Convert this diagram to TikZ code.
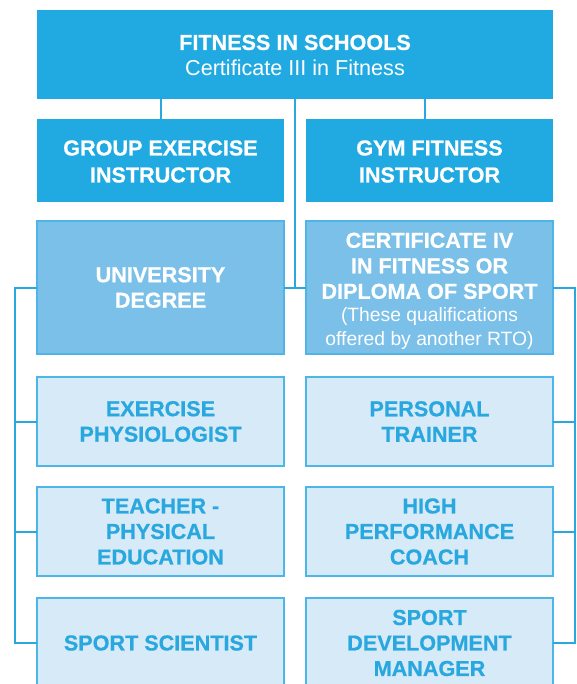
\documentclass[tikz,border=0pt]{standalone}
\usepackage{fontspec}
\setmainfont{Liberation Sans}[BoldFeatures={FakeBold=0.7}]
\definecolor{topblue}{HTML}{21AAE1}
\definecolor{midblue}{HTML}{7AC0E9}
\definecolor{midborder}{HTML}{4FB4E6}
\definecolor{paleblue}{HTML}{D7EAF7}
\definecolor{paleborder}{HTML}{4DB6E9}
\definecolor{textblue}{HTML}{29A7DF}
\definecolor{lineblue}{HTML}{29A8E0}
\tikzset{
  boxtext/.style={inner sep=0pt, outer sep=0pt, align=center,
    font=\fontsize{21.6}{25.5}\selectfont\bfseries},
  box/.style={boxtext, rectangle, minimum width=247pt},
  topbox/.style={box, fill=topblue, text=white},
  midbox/.style={box, fill=midblue, draw=midborder, line width=1.5pt, text=white},
  palebox/.style={box, fill=paleblue, draw=paleborder, line width=1.5pt, text=textblue},
  conn/.style={draw=lineblue, line width=2pt},
}
\begin{document}
\begin{tikzpicture}[x=1pt, y=-1pt]
\useasboundingbox (0,0) rectangle (576,684);
\begin{scope}
\clip (0,0) rectangle (576,684);
% top
\node[topbox, minimum width=516pt, minimum height=89pt] (top) at (295,54.5) {};
\node[boxtext, text=white] (toptext) at (295,55.5)
  {FITNESS IN SCHOOLS\\[0.5pt]{\mdseries Certificate III in Fitness}};
\node[topbox, minimum height=83pt] (ge) at (160.5,160.5) {};
\node[boxtext, text=white] (getext) at (160.5,161.5) {GROUP EXERCISE\\[1.5pt]INSTRUCTOR};
\node[topbox, minimum height=83pt] (gf) at (429.5,160.5) {};
\node[boxtext, text=white] (gftext) at (429.5,161.5) {GYM FITNESS\\[1.5pt]INSTRUCTOR};
% middle
\node[midbox, minimum height=133pt] (ud) at (160.5,287.5) {UNIVERSITY\\DEGREE};
\node[midbox, minimum height=133pt] (c4) at (429.5,287.5) {};
\node[boxtext, text=white] (c4text) at (429.5,291)
  {CERTIFICATE IV\\IN FITNESS OR\\DIPLOMA OF SPORT\\[-2.5pt]
   {\mdseries\fontsize{19.3}{23}\selectfont (These qualifications}\\[-2pt]
   {\mdseries\fontsize{19.3}{23}\selectfont offered by another RTO)}};
% pale rows
\node[palebox, minimum height=89pt] (ep) at (160.5,421.5) {EXERCISE\\PHYSIOLOGIST};
\node[palebox, minimum height=89pt] (pt) at (429.5,421.5) {PERSONAL\\TRAINER};
\node[palebox, minimum height=89pt] (te) at (160.5,531.5) {TEACHER -\\PHYSICAL\\EDUCATION};
\node[palebox, minimum height=89pt] (hp) at (429.5,531.5) {HIGH\\PERFORMANCE\\COACH};
\node[palebox, minimum height=90pt] (ss) at (160.5,643) {SPORT SCIENTIST};
\node[palebox, minimum height=90pt] (sd) at (429.5,643) {SPORT\\DEVELOPMENT\\MANAGER};
% bus coordinates
\coordinate (lbus) at (14.5,0);
\coordinate (rbus) at (575,0);
\coordinate (gfx) at (425,0);
\coordinate (midx) at (295,0);
% connectors from the top
\draw[conn] (ge.north) -- (ge.north |- top.south);
\draw[conn] (gf.north -| gfx) -- (top.south -| gfx);
\draw[conn] (top.south) -- (ud.east -| midx);
\draw[conn] (ud.east) -- (c4.west |- ud.east);
% left bus
\draw[conn] (ud.west) -- (ud.west -| lbus) -- (ss.west -| lbus) -- (ss.west);
\draw[conn] (ep.west) -- (ep.west -| lbus);
\draw[conn] (te.west) -- (te.west -| lbus);
% right bus
\draw[conn] (c4.east |- ud.east) -- (ud.east -| rbus) -- (sd.east -| rbus) -- (sd.east);
\draw[conn] (pt.east) -- (pt.east -| rbus);
\draw[conn] (hp.east) -- (hp.east -| rbus);
\end{scope}
\end{tikzpicture}
\end{document}
